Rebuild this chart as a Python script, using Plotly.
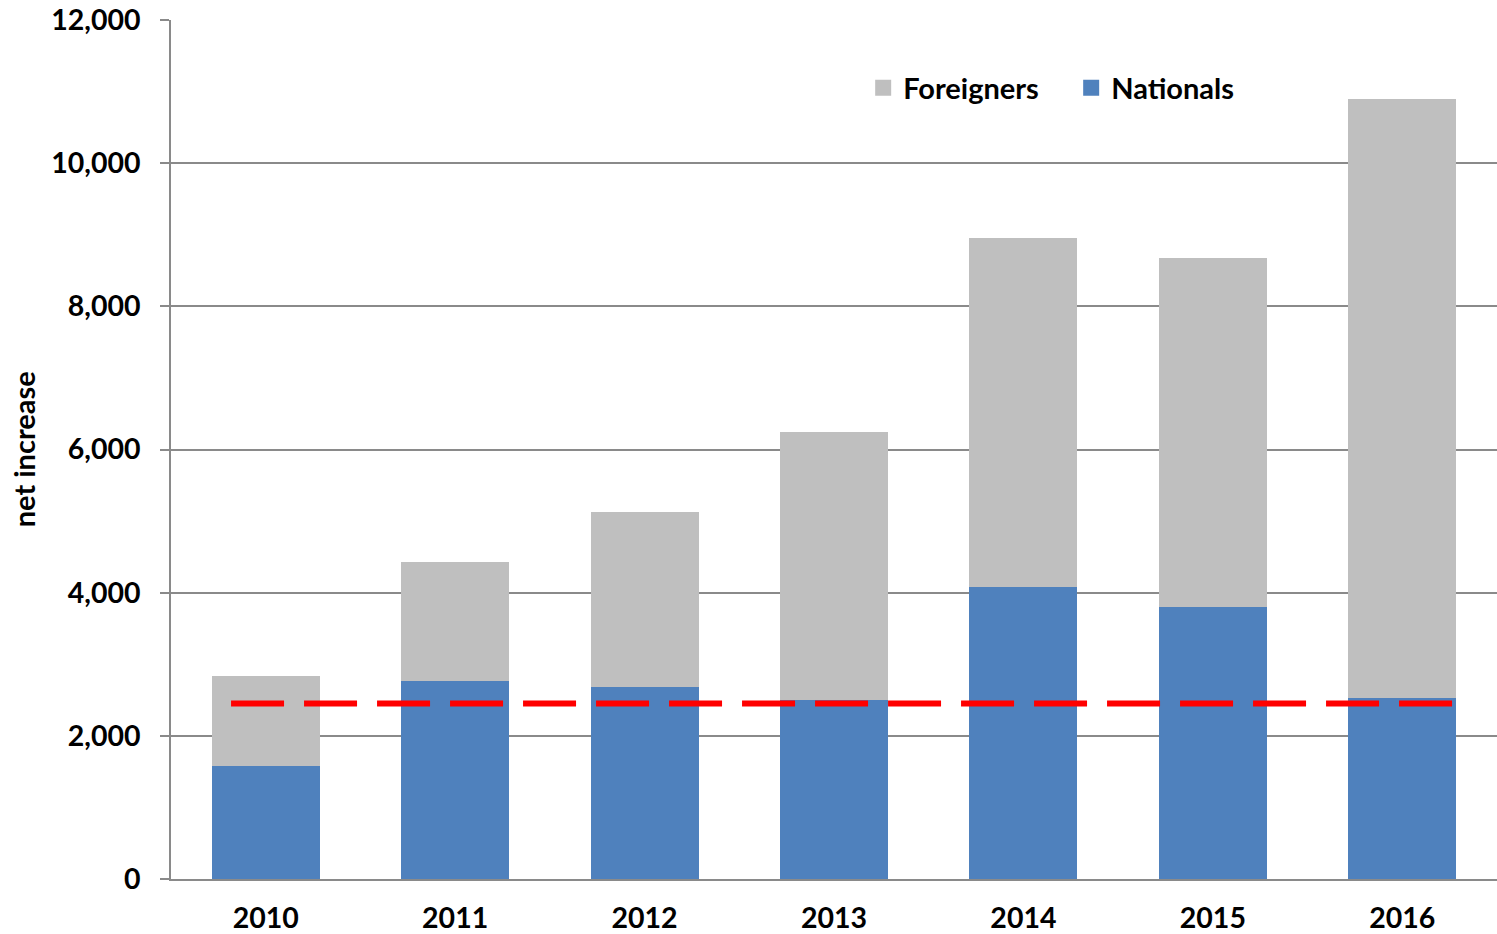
import plotly.graph_objects as go

years = ["2010", "2011", "2012", "2013", "2014", "2015", "2016"]
nationals = [1580, 2770, 2680, 2500, 4080, 3800, 2530]
foreigners = [1260, 1660, 2450, 3745, 4880, 4880, 8360]
benchmark_value = 2450
benchmark_span = [-0.183, 6.29]
y_title = "net increase"

x_pos = list(range(len(years)))
FAM = "Lato, 'Open Sans', sans-serif"
TICKFONT = dict(family=FAM, size=28.5, color="black", weight="bold")
LEGFONT = dict(family=FAM, size=29, color="black", weight="bold")
GRID = "#8a8a8a"
C_NAT = "#4F81BD"
C_FOR = "#BFBFBF"

fig = go.Figure()
fig.add_trace(go.Bar(x=x_pos, y=nationals, name="Nationals", marker_color=C_NAT,
                     width=0.57, marker_line_width=0, showlegend=False))
fig.add_trace(go.Bar(x=x_pos, y=foreigners, name="Foreigners", marker_color=C_FOR,
                     width=0.57, marker_line_width=0, showlegend=False))
fig.add_trace(go.Scatter(x=benchmark_span, y=[benchmark_value] * 2, mode="lines",
                         line=dict(color="#FF0000", width=6, dash="53px,20px"),
                         showlegend=False, hoverinfo="skip"))
# legend entries
for nm, col in [("Foreigners", C_FOR), ("Nationals", C_NAT)]:
    fig.add_trace(go.Scatter(x=[None], y=[None], mode="markers", name=nm,
                             marker=dict(symbol="square", size=17, color=col)))

fig.update_layout(
    width=1497, height=934,
    margin=dict(l=171, r=0, t=20, b=55),
    barmode="stack",
    plot_bgcolor="white", paper_bgcolor="white",
    font=TICKFONT,
    showlegend=True,
    legend=dict(orientation="h", traceorder="normal", x=0.522, y=0.921,
                xanchor="left", yanchor="middle", font=LEGFONT, bgcolor="rgba(0,0,0,0)",
                itemsizing="trace", entrywidth=163, entrywidthmode="pixels"),
    annotations=[dict(text=y_title, xref="paper", yref="paper", x=-0.111, y=0.5,
                      xanchor="center", yanchor="middle", textangle=-90,
                      showarrow=False, font=LEGFONT)],
)
fig.update_xaxes(range=[-0.5, 6.5], tickvals=x_pos, ticktext=years, showgrid=False,
                 showline=True, linecolor=GRID, linewidth=1.5, ticks="", zeroline=False,
                 tickfont=TICKFONT, ticklabelstandoff=13, automargin=False)
fig.update_yaxes(range=[0, 12000], dtick=2000, tickformat=",", showgrid=True,
                 gridcolor=GRID, gridwidth=1.5, showline=True, linecolor=GRID, linewidth=1.5,
                 ticks="outside", ticklen=9, tickcolor=GRID, tickwidth=1.5, zeroline=False,
                 tickfont=TICKFONT, ticklabelstandoff=14, automargin=False)

fig.write_html("out.html", config={"displayModeBar": False},
               post_script="document.body.style.margin='0';")
